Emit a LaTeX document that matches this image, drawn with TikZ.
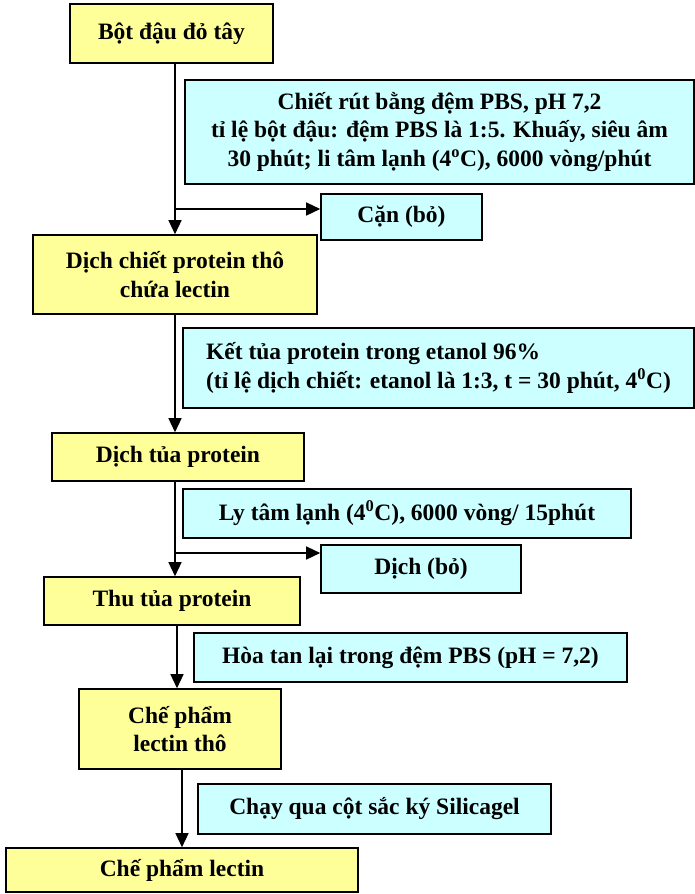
\documentclass[tikz,border=0pt]{standalone}
\usepackage{fontspec}
\setmainfont{Liberation Serif}
\usetikzlibrary{arrows.meta}

\definecolor{stepyellow}{HTML}{FFFF99}
\definecolor{stepcyan}{HTML}{CCFFFF}

\tikzset{
	product/.style={draw=black, fill=stepyellow, line width=1.6pt, inner sep=0pt, align=center},
	action/.style={draw=black, fill=stepcyan, line width=1.6pt, inner sep=0pt, align=center},
	arr/.style={line width=1.4pt, -{Triangle[length=14pt, width=13pt]}}
}

\begin{document}
\begin{tikzpicture}[x=1pt, y=-1pt, font=\fontsize{23.5}{28.5}\selectfont\bfseries]

		\useasboundingbox (0, 0) rectangle (695, 894);

		\node [product, minimum width=203, minimum height=59] (bot) at (171.5, 33.5) {Bột đậu đỏ tây};

		\node [action, minimum width=509, minimum height=104] (chiet) at (439.5, 132) {Chiết rút bằng đệm PBS, pH 7,2\\tỉ lệ bột đậu: đệm PBS là 1:5. Khuấy, siêu âm\\30 phút; li tâm lạnh (4\textsuperscript{o}C), 6000 vòng/phút};

		\node [action, minimum width=161, minimum height=46] (can) at (401.5, 217) {Cặn (bỏ)};

		\node [product, minimum width=284, minimum height=79] (dichchiet) at (175, 274.5) {Dịch chiết protein thô\\chứa lectin};

		\node [action, minimum width=511, minimum height=80, align=left] (kettua) at (438.5, 368) {Kết tủa protein trong etanol 96\%\\(tỉ lệ dịch chiết: etanol là 1:3, t = 30 phút, 4\textsuperscript{0}C)};

		\node [product, minimum width=252, minimum height=48] (dichtua) at (178, 457) {Dịch tủa protein};

		\node [action, minimum width=448, minimum height=49] (lytam) at (407, 513.5) {Ly tâm lạnh (4\textsuperscript{0}C), 6000 vòng/ 15phút};

		\node [action, minimum width=200, minimum height=48] (dich) at (421, 569) {Dịch (bỏ)};

		\node [product, minimum width=256, minimum height=48] (thutua) at (172, 601) {Thu tủa protein};

		\node [action, minimum width=433, minimum height=49] (hoatan) at (410.5, 657.5) {Hòa tan lại trong đệm PBS (pH = 7,2)};

		\node [product, minimum width=202, minimum height=80] (chephamtho) at (180, 729) {Chế phẩm\\lectin thô};

		\node [action, minimum width=353, minimum height=50] (chay) at (374.5, 809) {Chạy qua cột sắc ký Silicagel};

		\node [product, minimum width=352, minimum height=44] (chepham) at (182, 870) {Chế phẩm lectin};

		\draw [arr] (bot.south -| dichchiet.north) -- (dichchiet.north);
		\coordinate (re1) at (175, 209);
		\draw [arr] (re1) -- (re1 -| can.west);

		\draw [arr] (dichchiet.south) -- (dichchiet.south |- dichtua.north);

		\draw [arr] (dichtua.south -| 175, 0) -- (175, 0 |- thutua.north);
		\coordinate (re2) at (175, 553);
		\draw [arr] (re2) -- (re2 -| dich.west);

		\draw [arr] (thutua.south -| 177, 0) -- (177, 0 |- chephamtho.north);

		\draw [arr] (chephamtho.south -| chepham.north) -- (chepham.north);
	\end{tikzpicture}
\end{document}
